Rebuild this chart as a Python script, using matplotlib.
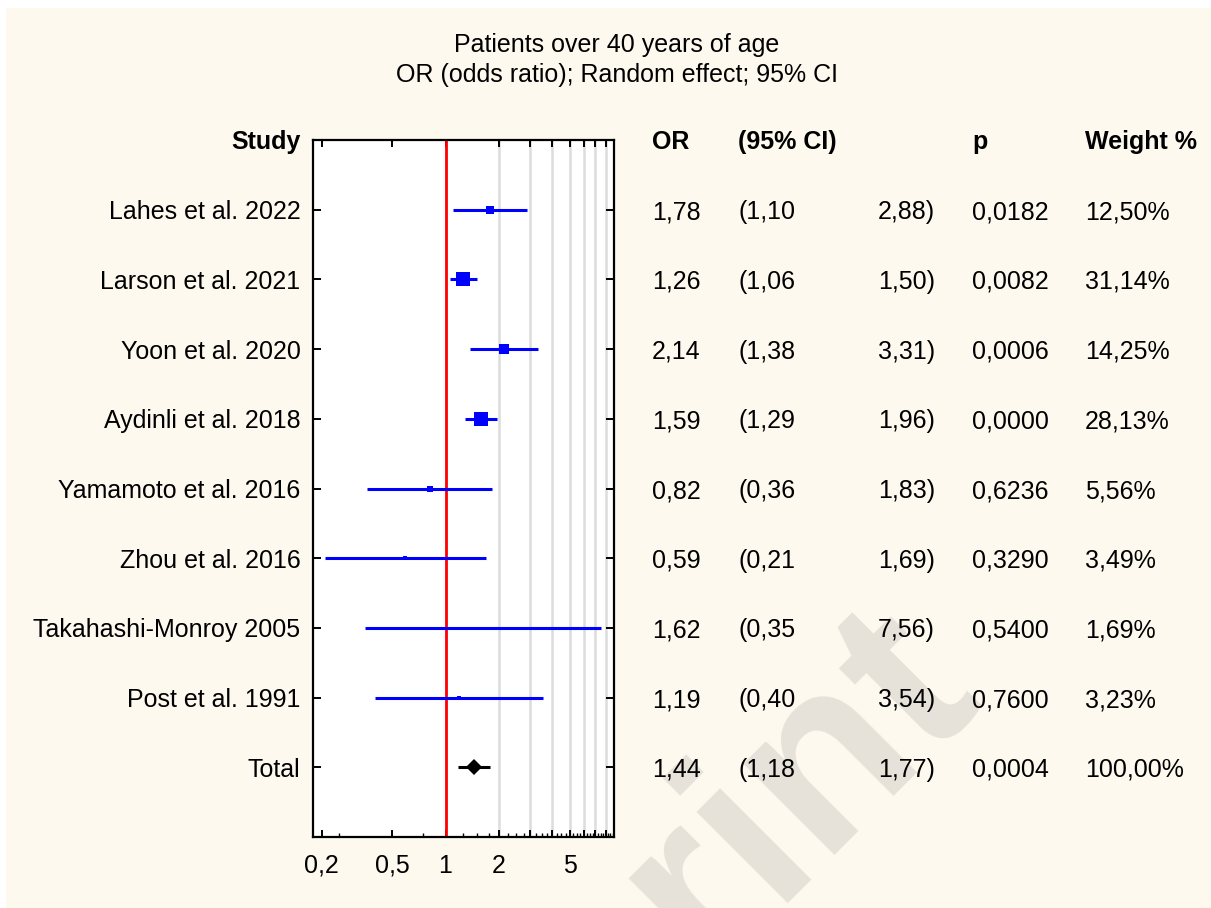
import matplotlib
matplotlib.use("Agg")
import matplotlib.pyplot as plt
import matplotlib.transforms as mtransforms
from matplotlib.patches import Rectangle
from matplotlib.ticker import FixedLocator, FixedFormatter, NullFormatter

plt.rcParams['font.family'] = ['Liberation Sans', 'DejaVu Sans']

# data
studies = ["Lahes et al. 2022", "Larson et al. 2021", "Yoon et al. 2020",
           "Aydinli et al. 2018", "Yamamoto et al. 2016", "Zhou et al. 2016",
           "Takahashi-Monroy 2005", "Post et al. 1991"]
odds = [1.78, 1.26, 2.14, 1.59, 0.82, 0.59, 1.62, 1.19]
ci_low = [1.10, 1.06, 1.38, 1.29, 0.36, 0.21, 0.35, 0.40]
ci_high = [2.88, 1.50, 3.31, 1.96, 1.83, 1.69, 7.56, 3.54]
pvals = [0.0182, 0.0082, 0.0006, 0.0000, 0.6236, 0.3290, 0.5400, 0.7600]
weights = [12.50, 31.14, 14.25, 28.13, 5.56, 3.49, 1.69, 3.23]

total_label = "Total"
total_or, total_low, total_high, total_p, total_w = 1.44, 1.18, 1.77, 0.0004, 100.00

xtick_vals = [0.2, 0.5, 1, 2, 3, 4, 5, 6, 7, 8]
xtick_labels = ["0,2", "0,5", "1", "2", "", "", "5", "", "", ""]
grid_vals = [2, 3, 4, 5, 6, 7, 8]

W, H = 1211, 908
BG = "#FDF9EF"
FS = 18


def comma(v, nd):
    return f"{v:.{nd}f}".replace(".", ",")


fig = plt.figure(figsize=(W / 100, H / 100), dpi=100, facecolor=BG)
# thin white strips at top and left edge
fig.patches.append(Rectangle((0, 1 - 8 / H), 1, 8 / H, transform=fig.transFigure,
                             facecolor="white", edgecolor="none", zorder=0))
fig.patches.append(Rectangle((0, 0), 6 / W, 1, transform=fig.transFigure,
                             facecolor="white", edgecolor="none", zorder=0))

# watermark (cut off by the bottom edge, as in the source)
fig.text(982 / W, 1 - 692 / H, "Preprint", rotation=45, rotation_mode="anchor",
         ha="right", va="baseline", fontsize=175, fontweight="bold",
         color="#E6E2DA", zorder=0)

ax = fig.add_axes([313 / W, 1 - 837 / H, 301 / W, 697 / H])
ax.set_facecolor("white")
ax.set_xscale("log")
ax.set_xlim(0.179, 8.9)
n = len(studies) + 1
ax.set_ylim(n + 1, 0)

for g in grid_vals:
    ax.axvline(g, color="#DCDCDC", lw=1.8, zorder=1)
ax.axvline(1, color="red", lw=2.0, zorder=2)

rows = list(range(1, len(studies) + 1))
for r, o, lo, hi, w in zip(rows, odds, ci_low, ci_high, weights):
    ax.plot([lo, hi], [r, r], color="blue", lw=2.2, zorder=3, solid_capstyle="butt")
    side = 2.8 * w ** 0.5 - 1.5
    ax.plot(o, r, marker="s", color="blue", markersize=side * 0.72,
            markeredgewidth=0, zorder=4)

ax.plot([total_low, total_high], [n, n], color="black", lw=2.2, zorder=3,
        solid_capstyle="butt")
ax.plot(total_or, n, marker="D", color="black", markersize=8.5,
        markeredgewidth=0, zorder=4)

for s in ax.spines.values():
    s.set_linewidth(1.6)

ax.set_yticks(list(range(1, n + 1)), labels=studies + [total_label])
ax.tick_params(axis="y", direction="in", length=6, width=1.4, left=True, right=True,
               labelsize=FS, pad=9)

ax.xaxis.set_major_locator(FixedLocator(xtick_vals))
ax.xaxis.set_major_formatter(FixedFormatter(xtick_labels))
minor = [0.25, 0.75] + [k + q for k in range(1, 9) for q in (0.25, 0.5, 0.75)]
ax.xaxis.set_minor_locator(FixedLocator(minor))
ax.xaxis.set_minor_formatter(NullFormatter())
ax.tick_params(axis="x", which="major", direction="in", length=5, width=1.4,
               top=True, labelsize=FS, pad=12)
ax.tick_params(axis="x", which="minor", direction="in", length=3, width=1.0,
               top=False)

# table on the right
trans = mtransforms.blended_transform_factory(fig.transFigure, ax.transData)
hy = 0.03
fig.text(301 / W, hy, "Study", transform=trans, ha="right", va="center",
         fontsize=FS, fontweight="bold")
for x, t in [(652, "OR"), (738, "(95% CI)"), (972, "p"), (1085, "Weight %")]:
    fig.text(x / W, hy, t, transform=trans, ha="left", va="center",
             fontsize=FS, fontweight="bold")

all_or = odds + [total_or]
all_lo = ci_low + [total_low]
all_hi = ci_high + [total_high]
all_p = pvals + [total_p]
all_w = weights + [total_w]
for r, o, lo, hi, p, w in zip(range(1, n + 1), all_or, all_lo, all_hi, all_p, all_w):
    kw = dict(transform=trans, va="center_baseline", fontsize=FS)
    fig.text(652 / W, r, comma(o, 2), ha="left", **kw)
    fig.text(738 / W, r, "(" + comma(lo, 2), ha="left", **kw)
    fig.text(935 / W, r, comma(hi, 2) + ")", ha="right", **kw)
    fig.text(972 / W, r, comma(p, 4), ha="left", **kw)
    fig.text(1085 / W, r, comma(w, 2) + "%", ha="left", **kw)

fig.text(617 / W, 1 - 45 / H, "Patients over 40 years of age", ha="center", va="center",
         fontsize=FS)
fig.text(617 / W, 1 - 75 / H, "OR (odds ratio); Random effect; 95% CI", ha="center",
         va="center", fontsize=FS)

fig.savefig("out.png", dpi=100, facecolor=BG)
